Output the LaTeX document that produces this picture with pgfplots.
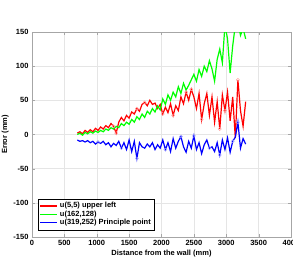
\documentclass[border=0pt]{standalone}
\usepackage{fontspec}
\setmainfont{Liberation Sans}
\usepackage{pgfplots}
\pgfplotsset{compat=1.18}
\begin{document}
\begin{tikzpicture}
\useasboundingbox (-32pt,-25pt) rectangle (261pt,237pt);
\begin{axis}[
  at={(0,0)}, anchor=south west,
  scale only axis, width=259pt, height=205pt,
  xmin=0, xmax=4000, ymin=-150, ymax=150,
  xtick={0,500,...,4000}, ytick={-150,-100,...,150},
  tick align=inside, tick pos=both,
  major tick length=3pt,
  grid=major, grid style={gray!20, line width=0.4pt},
  axis line style={gray!70, line width=0.5pt},
  tick style={gray!70},
  font=\fontsize{7.5}{8.5}\selectfont\bfseries,
  tick label style={font=\fontsize{7.5}{8.5}\selectfont\bfseries},
  /pgf/number format/assume math mode=true,
  /pgf/number format/set thousands separator={},
  scaled ticks=false,
  xlabel={Distance from the wall (mm)},
  ylabel={Error (mm)},
  xlabel style={yshift=3pt},
  ylabel style={yshift=-2pt},
  legend style={at={(0.023,0.034)}, anchor=south west, draw=black, line width=0.4pt,
    font=\fontsize{7.5}{8.5}\selectfont\bfseries, row sep=-2.5pt, inner sep=1.5pt,
    /tikz/every even column/.append style={column sep=1pt}},
  legend cell align=left,
  clip=true,
]
\addplot[red!60, line width=1.2pt, forget plot] coordinates {(0,200)};
\addplot[red, line width=1.2pt] coordinates {
(700,2)(740,4)(780,1)(820,6)(860,3)(900,7)(940,4)(980,9)(1020,6)(1060,11)
(1100,8)(1140,13)(1180,10)(1220,16)(1260,12)(1300,2)(1340,18)(1380,25)(1420,20)(1460,28)
(1500,24)(1540,33)(1580,30)(1620,38)(1660,34)(1700,44)(1740,47)(1780,42)(1820,50)(1860,44)
(1900,46)(1940,38)(1980,44)(2020,30)(2060,40)(2100,32)(2140,45)(2180,28)(2220,42)(2260,35)
(2300,55)(2340,45)(2380,62)(2420,50)(2460,66)(2500,55)(2540,38)(2580,60)(2620,22)(2660,45)
(2700,60)(2740,28)(2780,55)(2820,18)(2860,48)(2900,8)(2940,58)(2980,35)(3020,62)(3060,20)
(3100,55)(3140,-5)(3180,80)(3220,35)(3260,12)(3300,48)};
\addlegendentry{u(5,5) upper left}
\addplot[green, line width=1.2pt] coordinates {
(700,0)(740,2)(780,-1)(820,3)(860,1)(900,4)(940,2)(980,5)(1020,3)(1060,6)
(1100,4)(1140,8)(1180,6)(1220,10)(1260,8)(1300,12)(1340,10)(1380,16)(1420,13)(1460,18)
(1500,15)(1540,22)(1580,18)(1620,26)(1660,22)(1700,30)(1740,25)(1780,34)(1820,30)(1860,38)
(1900,33)(1940,42)(1980,36)(2020,52)(2060,44)(2100,58)(2140,50)(2180,62)(2220,55)(2260,70)
(2300,60)(2340,75)(2380,65)(2420,72)(2460,80)(2500,88)(2540,78)(2580,95)(2620,85)(2660,100)
(2700,92)(2740,108)(2780,96)(2820,78)(2860,110)(2900,125)(2940,105)(2980,160)(3020,140)(3060,90)
(3100,130)(3140,160)(3180,165)(3220,145)(3260,155)(3300,140)};
\addlegendentry{u(162,128)}
\addplot[blue, line width=1.2pt] coordinates {
(700,-8)(740,-10)(780,-9)(820,-11)(860,-9)(900,-12)(940,-10)(980,-14)(1020,-11)(1060,-13)
(1100,-10)(1140,-15)(1180,-12)(1220,-18)(1260,-13)(1300,-16)(1340,-10)(1380,-20)(1420,-12)(1460,-22)
(1500,-8)(1540,-25)(1580,-10)(1620,-35)(1660,-12)(1700,-18)(1740,-20)(1780,-14)(1820,-18)(1860,-12)
(1900,-22)(1940,-15)(1980,-20)(2020,-8)(2060,-22)(2100,-12)(2140,-25)(2180,-6)(2220,-20)(2260,-10)
(2300,-3)(2340,-18)(2380,-26)(2420,-10)(2460,-20)(2500,-2)(2540,-22)(2580,-12)(2620,-28)(2660,-15)
(2700,-8)(2740,-20)(2780,-18)(2820,-25)(2860,-12)(2900,-30)(2940,-8)(2980,-22)(3020,-5)(3060,-26)
(3100,-10)(3140,-4)(3180,18)(3220,-20)(3260,-6)(3300,-14)};
\addlegendentry{u(319,252) Principle point}
\addplot[only marks, mark=o, mark size=1.6pt, red!40, forget plot] coordinates {
(1260,12)(1620,38)(1740,47)(2020,30)(2180,28)(2380,62)(2460,66)(2620,22)(2900,8)(2980,35)(3180,80)(1300,2)};
\addplot[only marks, mark=o, mark size=1.6pt, blue!35, forget plot] coordinates {
(1020,-11)(1380,-20)(1620,-35)(2060,-22)(2300,-3)(2500,-2)(2740,-20)(2900,-30)(3180,18)(3100,-10)};
\end{axis}
\end{tikzpicture}
\end{document}
